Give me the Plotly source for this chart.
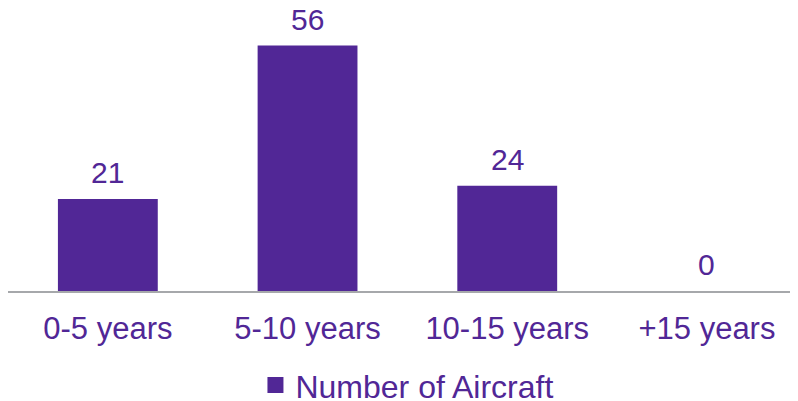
import plotly.graph_objects as go

categories = ["0-5 years", "5-10 years", "10-15 years", "+15 years"]
aircraft = [21, 56, 24, 0]
series_name = "Number of Aircraft"

purple = "#512796"
font_family = "Liberation Sans, Arial, sans-serif"

fig = go.Figure()
fig.add_trace(go.Bar(
    x=categories, y=aircraft, name=series_name,
    marker=dict(color=purple, line=dict(width=0)),
    showlegend=False,
))
# legend entry with a larger square symbol
fig.add_trace(go.Scatter(
    x=[None], y=[None], mode="markers", name=series_name,
    marker=dict(symbol="square", size=16, color=purple),
    showlegend=True,
))

for c, v in zip(categories, aircraft):
    fig.add_annotation(
        x=c, y=v, text=str(v), showarrow=False,
        yanchor="bottom", yshift=8,
        font=dict(family=font_family, size=30, color=purple),
    )

fig.update_layout(
    width=790, height=393,
    margin=dict(l=0, r=0, t=20, b=110, autoexpand=False),
    paper_bgcolor="white", plot_bgcolor="white",
    bargap=0.5,
    font=dict(family=font_family, size=30, color=purple),
    xaxis=dict(
        range=[-0.5, 3.456], automargin=False,
        showline=True, linecolor="#A6A8AB", linewidth=2,
        ticks="outside", ticklen=9, tickcolor="rgba(0,0,0,0)",
        tickfont=dict(family=font_family, size=31, color=purple),
        showgrid=False, zeroline=False,
    ),
    yaxis=dict(range=[0, 60], visible=False, showgrid=False, zeroline=False),
    showlegend=True,
    legend=dict(
        orientation="h", x=0.505, xanchor="center",
        yref="container", y=0.04, yanchor="middle",
        font=dict(family=font_family, size=32, color=purple),
        itemwidth=30,
    ),
)

fig.write_html("out.html")
